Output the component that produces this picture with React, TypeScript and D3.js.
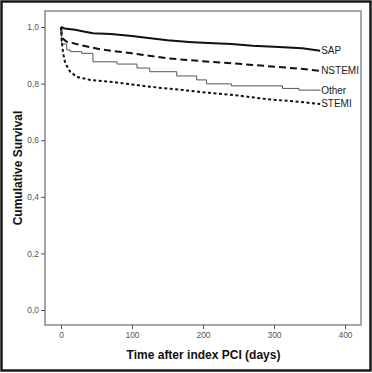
import React, { useRef, useEffect } from 'react';
import * as d3 from 'd3';

// Kaplan-Meier curves: [day, survival]
const sapCurve: [number, number][] = [
  [0, 1.0], [5, 0.995], [20, 0.99], [30, 0.985], [45, 0.978], [70, 0.975],
  [100, 0.968], [120, 0.962], [150, 0.953], [180, 0.947], [200, 0.944],
  [240, 0.94], [270, 0.934], [300, 0.93], [340, 0.925], [355, 0.92], [365, 0.916],
];
const nstemiCurve: [number, number][] = [
  [0, 1.0], [1, 0.975], [2, 0.96], [8, 0.948], [30, 0.935], [55, 0.921],
  [100, 0.907], [150, 0.889], [195, 0.88], [240, 0.872], [290, 0.862],
  [335, 0.853], [365, 0.845],
];
const otherCurve: [number, number][] = [
  [0, 1.0], [1, 0.94], [8, 0.919], [13, 0.913], [29, 0.907], [45, 0.877],
  [79, 0.869], [107, 0.855], [125, 0.842], [163, 0.827], [191, 0.813],
  [205, 0.799], [240, 0.792], [312, 0.783], [335, 0.777], [365, 0.775],
];
const stemiCurve: [number, number][] = [
  [0, 1.0], [1, 0.95], [3, 0.907], [6, 0.872], [13, 0.842], [22, 0.824],
  [41, 0.813], [78, 0.804], [125, 0.789], [172, 0.777], [206, 0.768],
  [250, 0.758], [290, 0.745], [330, 0.737], [365, 0.728],
];

const seriesNames = ['SAP', 'NSTEMI', 'Other', 'STEMI'];
const xTicks = [0, 100, 200, 300, 400];
const yTicks = [0, 0.2, 0.4, 0.6, 0.8, 1.0];

const Chart = () => {
  const ref = useRef<SVGSVGElement>(null);

  useEffect(() => {
    const svg = d3.select(ref.current);
    svg.selectAll('*').remove();

    // outer black frame
    svg.append('rect')
      .attr('x', 1.5).attr('y', 1.5)
      .attr('width', 369).attr('height', 369)
      .attr('fill', 'white')
      .attr('stroke', '#1a1a1a')
      .attr('stroke-width', 2.5);

    const xScale = d3.scaleLinear().domain([0, 400]).range([61, 345]);
    const yScale = d3.scaleLinear().domain([0, 1]).range([310, 27]);

    // plot box
    svg.append('rect')
      .attr('x', 45).attr('y', 11)
      .attr('width', 316).attr('height', 314)
      .attr('fill', 'none')
      .attr('stroke', '#8a8a8a')
      .attr('stroke-width', 1.5);

    const font = 'Arial, "Liberation Sans", sans-serif';

    // y axis
    const yAxis = svg.append('g')
      .attr('transform', 'translate(45,0)')
      .call(d3.axisLeft(yScale).tickValues(yTicks).tickSize(4).tickPadding(2)
        .tickFormat(d => d3.format('.1f')(+d).replace('.', ',')));
    yAxis.select('.domain').remove();
    yAxis.selectAll('line').attr('stroke', '#555');
    yAxis.selectAll('text')
      .attr('fill', '#555').style('font-family', font).style('font-size', '8.5px');

    // x axis
    const xAxis = svg.append('g')
      .attr('transform', 'translate(0,325)')
      .call(d3.axisBottom(xScale).tickValues(xTicks).tickSize(4).tickPadding(3));
    xAxis.select('.domain').remove();
    xAxis.selectAll('line').attr('stroke', '#555');
    xAxis.selectAll('text')
      .attr('fill', '#555').style('font-family', font).style('font-size', '8.5px');

    // axis titles
    svg.append('text')
      .attr('x', 203.5).attr('y', 359)
      .attr('text-anchor', 'middle')
      .style('font-family', font).style('font-size', '12px').style('font-weight', 'bold')
      .attr('fill', '#111')
      .text('Time after index PCI (days)');

    svg.append('text')
      .attr('transform', 'translate(22,168) rotate(-90)')
      .attr('text-anchor', 'middle')
      .style('font-family', font).style('font-size', '12px').style('font-weight', 'bold')
      .attr('fill', '#111')
      .text('Cumulative Survival');

    const lineSmooth = d3.line<[number, number]>()
      .x(d => xScale(d[0]))
      .y(d => yScale(d[1]));
    const lineStep = d3.line<[number, number]>()
      .x(d => xScale(d[0]))
      .y(d => yScale(d[1]))
      .curve(d3.curveStepAfter);

    const curves = [sapCurve, nstemiCurve, otherCurve, stemiCurve];
    const styles = [
      { stroke: '#111', width: 2, dash: null, step: false },
      { stroke: '#111', width: 2, dash: '7,4', step: false },
      { stroke: '#555', width: 1, dash: null, step: true },
      { stroke: '#111', width: 2, dash: '3,2.5', step: false },
    ];

    curves.forEach((c, i) => {
      svg.append('path')
        .datum(c)
        .attr('d', styles[i].step ? lineStep : lineSmooth)
        .attr('fill', 'none')
        .attr('stroke', styles[i].stroke)
        .attr('stroke-width', styles[i].width)
        .attr('stroke-dasharray', styles[i].dash);

      const last = c[c.length - 1];
      svg.append('text')
        .attr('x', xScale(last[0]) + 1)
        .attr('y', yScale(last[1]))
        .attr('dy', '0.35em')
        .style('font-family', font).style('font-size', '10px')
        .attr('fill', '#222')
        .text(seriesNames[i]);
    });
  }, []);

  return <svg ref={ref} width="372" height="373"></svg>;
};

export default function App() {
  return (
    <div style={{ position: 'absolute', left: 0, top: 0 }}>
      <Chart />
    </div>
  );
}
